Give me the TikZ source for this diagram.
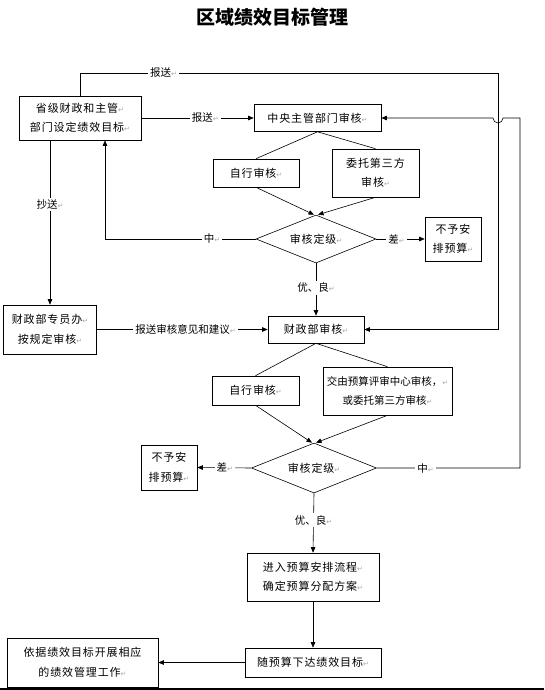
\documentclass[tikz,border=0pt]{standalone}
\usepackage{fontspec}
\usetikzlibrary{arrows.meta, shapes.geometric, positioning}
\newfontfamily\cjk{Noto Sans CJK SC}
\newfontfamily\cjkwide[LetterSpace=8]{Noto Sans CJK SC}
\newfontfamily\symf{DejaVu Sans}
\newcommand{\rmark}{{\symf\fontsize{7}{7}\selectfont\textcolor{gray!70}{↵}}}
\tikzset{
	box/.style={draw, line width=0.6pt, align=center, inner sep=0pt, font=\cjkwide\fontsize{11}{19.5}\selectfont},
	grade/.style={diamond, draw, line width=0.6pt, aspect=2.5, inner sep=0pt, font=\cjkwide\fontsize{11}{19.5}\selectfont},
	lbl/.style={fill=white, inner sep=2pt, font=\cjk\fontsize{10.5}{14}\selectfont},
	line/.style={draw, line width=0.6pt},
	arrow/.style={line, -{Triangle[length=5.5pt,width=4.5pt]}}
}

\begin{document}
\begin{tikzpicture}[x=1pt, y=-1pt]
	\useasboundingbox (0,0) rectangle (544,690);
		  % Nodes
		\node[font=\cjk\bfseries\fontsize{19}{22}\selectfont] (title) at (272,17) {区域绩效目标管理};
		  \node[box, minimum width=122, minimum height=44] (prov) at (80,118) {省级财政和主管\rmark\\部门设定绩效目标\rmark};
		  \node[box, minimum width=127, minimum height=27] (central) at (317.5,118) {中央主管部门审核\rmark};
		  \node[box, minimum width=86, minimum height=28] (self1) at (256,173) {自行审核\rmark};
		  \node[box, minimum width=87, minimum height=48] (third1) at (375.5,173) {委托第三方\\审核\rmark};
		  \node[grade, minimum width=120, minimum height=48] (grade1) at (316,239) {审核定级\rmark};
		  \node[box, minimum width=56, minimum height=44] (none1) at (453,239) {不予安\\排预算\rmark};
		  \node[box, minimum width=93, minimum height=49] (office) at (50,329.5) {财政部专员办\rmark\\按规定审核\rmark};
		  \node[box, minimum width=96, minimum height=27] (mof) at (316,329.5) {财政部审核\rmark};
		  \node[box, minimum width=87, minimum height=29] (self2) at (255.5,390.5) {自行审核\rmark};
		  \node[box, minimum width=129, minimum height=48, font=\cjk\fontsize{10.5}{19.5}\selectfont] (third2) at (387.5,391) {交由预算评审中心审核，\rmark\\或委托第三方审核\rmark};
		  \node[grade, minimum width=125, minimum height=50] (grade2) at (314,468) {审核定级\rmark};
		  \node[box, minimum width=56, minimum height=45] (none2) at (169,467.5) {不予安\\排预算\rmark};
		  \node[box, minimum width=132, minimum height=48] (budget) at (313,577) {进入预算安排流程\rmark\\确定预算分配方案\rmark};
		  \node[box, minimum width=136, minimum height=29] (issue) at (313,662.5) {随预算下达绩效目标\rmark};
		  \node[box, minimum width=151, minimum height=49] (manage) at (82.5,662.5) {依据绩效目标开展相应\\的绩效管理工作\rmark};

		  % Corners
		  \coordinate (top1) at (80,73);
		  \coordinate (top2) at (498,73);
		  \coordinate (back1) at (105,239);
		  \coordinate (side1) at (520,468);
		  \coordinate (side2) at (520,118);

		  % Edges
		  \draw[arrow] (prov.north) -- (top1) -- node[lbl, pos=0.2] {报送\rmark} (top2) |- (mof.east);
		  \draw[arrow] (prov.east) -- node[lbl, pos=0.57] {报送\rmark} (central.west);
		  \draw[arrow] (grade2.east) -- node[lbl, pos=0.34] {中\rmark} (side1) -- (side2) -- (503,118) arc[start angle=0, end angle=180, radius=5] -- (central.east);
		  \draw[line] (central.south) -- (self1.north);
		  \draw[line] (central.south) -- (third1.north);
		  \draw[arrow] (self1.south) -- ([xshift=-2]grade1.north);
		  \draw[arrow] (third1.south) -- ([xshift=2]grade1.north);
		  \draw[arrow] (grade1.west) -- node[lbl, pos=0.29] {中\rmark} (back1) -- (back1 |- prov.south);
		  \draw[arrow] (grade1.east) -- node[lbl, pos=0.42] {差\rmark} (none1.west);
		  \draw[arrow] (grade1.south) -- node[lbl, pos=0.47] {优、良\rmark} (mof.north);
		  \draw[arrow] ([xshift=-30]prov.south) -- node[lbl, pos=0.39] {抄送\rmark} (office.north);
		  \draw[arrow] (office.east) -- node[lbl, pos=0.52] {报送审核意见和建议\rmark} (mof.west);
		  \draw[line] (mof.south) -- (self2.north);
		  \draw[line] (mof.south) -- (third2.north);
		  \draw[arrow] (self2.south) -- ([xshift=-2]grade2.north);
		  \draw[arrow] (third2.south) -- ([xshift=2]grade2.north);
		  \draw[arrow] (grade2.west) -- node[lbl, pos=0.49] {差\rmark} (none2.east);
		  \draw[arrow] (grade2.south) -- node[lbl, pos=0.45] {优、良\rmark} (budget.north);
		  \draw[arrow] (budget.south) -- (issue.north);
		  \draw[arrow] (issue.west) -- (manage.east);
		  \draw[line width=1.5pt] (0,689.2) -- (544,689.2);
\end{tikzpicture}
\end{document}
